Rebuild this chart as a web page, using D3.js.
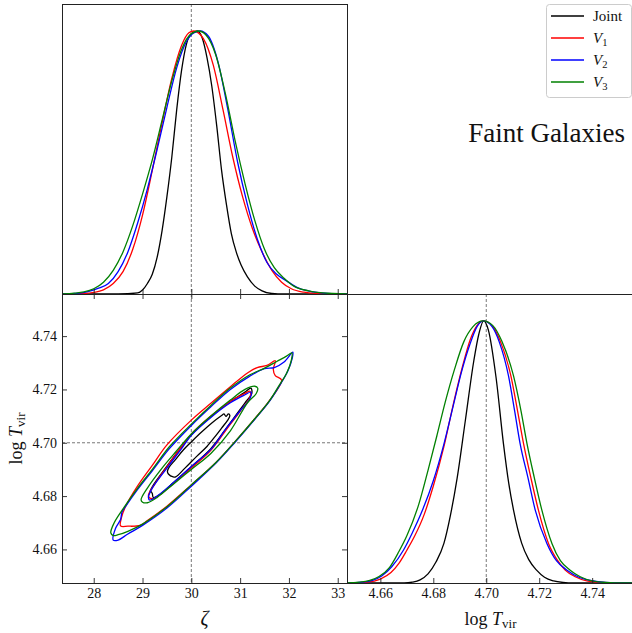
<!DOCTYPE html>
<html>
<head>
<meta charset="utf-8">
<script src="https://cdn.jsdelivr.net/npm/d3@7"></script>
<style>
  body { margin: 0; background: #fff; }
  svg text { font-family: "Liberation Serif", "DejaVu Serif", serif; fill: #111; }
</style>
</head>
<body>
<svg id="fig" width="632" height="633"></svg>
<script>
// ---------- data ----------
const zetaTicks = [28, 29, 30, 31, 32, 33];
const tvirTicks = [4.66, 4.68, 4.70, 4.72, 4.74];
const zetaTrue = 30;
const tvirTrue = 4.70;
const seriesKeys = ["Joint", "V1", "V2", "V3"];
const seriesColors = ["#000000", "#ff0000", "#0000ff", "#008000"];
const titleText = "Faint Galaxies";

// marginal posterior of zeta (peak-normalised)
const zetaJoint = [[27.35,0],[28.5,0],[28.9,0.004],[29.0,0.015],[29.1,0.04],[29.2,0.075],[29.3,0.14],[29.4,0.24],[29.5,0.37],[29.6,0.52],[29.7,0.7],[29.8,0.85],[29.9,0.95],[30.0,0.99],[30.12,1.0],[30.22,0.975],[30.32,0.9],[30.42,0.79],[30.52,0.64],[30.62,0.47],[30.72,0.34],[30.82,0.23],[30.92,0.16],[31.02,0.11],[31.15,0.065],[31.3,0.03],[31.45,0.012],[31.65,0.002],[31.9,0],[33.19,0]];
const zetaV1 = [[27.35,0],[27.8,0.002],[28.0,0.006],[28.2,0.016],[28.4,0.04],[28.6,0.085],[28.8,0.17],[29.0,0.3],[29.2,0.47],[29.4,0.65],[29.6,0.82],[29.8,0.945],[29.95,0.993],[30.05,1.0],[30.25,0.97],[30.45,0.87],[30.65,0.7],[30.85,0.52],[31.05,0.37],[31.25,0.25],[31.45,0.16],[31.65,0.09],[31.85,0.045],[32.05,0.02],[32.3,0.007],[32.6,0.002],[33.0,0],[33.19,0]];
const zetaV2 = [[27.35,0],[27.7,0.003],[27.9,0.01],[28.1,0.022],[28.3,0.04],[28.5,0.085],[28.7,0.16],[28.9,0.27],[29.1,0.4],[29.3,0.55],[29.5,0.71],[29.7,0.86],[29.9,0.96],[30.05,0.993],[30.18,1.0],[30.35,0.98],[30.55,0.88],[30.75,0.7],[30.95,0.5],[31.15,0.34],[31.35,0.21],[31.55,0.12],[31.75,0.075],[31.95,0.05],[32.2,0.022],[32.5,0.008],[32.8,0.002],[33.19,0]];
const zetaV3 = [[27.35,0],[27.6,0.003],[27.8,0.008],[28.0,0.02],[28.2,0.045],[28.4,0.09],[28.6,0.16],[28.8,0.26],[29.0,0.38],[29.2,0.51],[29.4,0.66],[29.6,0.81],[29.8,0.93],[30.0,0.99],[30.15,1.0],[30.3,0.985],[30.5,0.91],[30.7,0.76],[30.9,0.58],[31.1,0.42],[31.3,0.28],[31.5,0.17],[31.7,0.1],[31.9,0.06],[32.1,0.03],[32.4,0.012],[32.7,0.004],[33.19,0]];

// marginal posterior of log T_vir (peak-normalised)
const tvirJoint = [[4.6474,0],[4.669,0],[4.672,0.003],[4.675,0.012],[4.678,0.035],[4.681,0.08],[4.684,0.151],[4.6865,0.26],[4.689,0.40],[4.6921,0.62],[4.6953,0.848],[4.6972,0.95],[4.699,1.0],[4.7008,0.965],[4.7037,0.784],[4.7065,0.531],[4.7085,0.38],[4.7103,0.278],[4.7134,0.151],[4.716,0.09],[4.719,0.049],[4.722,0.022],[4.7254,0.008],[4.729,0.002],[4.733,0],[4.7558,0]];
const tvirV1 = [[4.6474,0],[4.651,0.001],[4.655,0.003],[4.66,0.015],[4.664,0.04],[4.667,0.075],[4.670,0.125],[4.673,0.18],[4.6765,0.26],[4.680,0.37],[4.684,0.52],[4.6875,0.68],[4.691,0.825],[4.694,0.93],[4.6965,0.982],[4.699,1.0],[4.7025,0.978],[4.7052,0.925],[4.7093,0.79],[4.7118,0.658],[4.7141,0.531],[4.7168,0.404],[4.7197,0.278],[4.7235,0.151],[4.727,0.085],[4.7298,0.049],[4.7336,0.024],[4.738,0.008],[4.744,0.002],[4.75,0],[4.7558,0]];
const tvirV2 = [[4.6474,0],[4.65,0.001],[4.653,0.003],[4.657,0.01],[4.6605,0.027],[4.6643,0.062],[4.6687,0.125],[4.672,0.19],[4.676,0.28],[4.680,0.39],[4.684,0.53],[4.6875,0.675],[4.6905,0.8],[4.6938,0.91],[4.6965,0.978],[4.699,1.0],[4.7022,0.978],[4.7049,0.92],[4.7084,0.79],[4.7107,0.658],[4.7128,0.531],[4.7157,0.404],[4.7185,0.278],[4.7229,0.151],[4.7265,0.085],[4.7305,0.049],[4.735,0.022],[4.7393,0.01],[4.745,0.002],[4.752,0],[4.7558,0]];
const tvirV3 = [[4.6474,0],[4.649,0.001],[4.652,0.003],[4.656,0.01],[4.6595,0.025],[4.6635,0.06],[4.667,0.12],[4.670,0.18],[4.6745,0.30],[4.678,0.43],[4.6813,0.56],[4.6845,0.69],[4.688,0.815],[4.6915,0.92],[4.695,0.978],[4.6988,1.0],[4.7025,0.982],[4.7059,0.922],[4.7103,0.79],[4.7131,0.658],[4.7154,0.531],[4.7181,0.404],[4.721,0.278],[4.7248,0.151],[4.728,0.085],[4.7317,0.049],[4.7355,0.024],[4.74,0.008],[4.745,0.002],[4.752,0],[4.7558,0]];

// joint (zeta, log T_vir) credible contours, closed outlines
const contJointInner = [[29.53,4.6883],[29.63,4.6872],[29.68,4.6872],[29.87,4.6905],[30.11,4.6949],[30.32,4.6986],[30.49,4.7024],[30.62,4.7055],[30.75,4.7086],[30.79,4.7102],[30.76,4.7108],[30.71,4.7099],[30.67,4.7108],[30.62,4.7102],[30.42,4.7074],[30.21,4.7040],[30.01,4.7005],[29.84,4.6974],[29.67,4.6936],[29.54,4.6907],[29.51,4.6892]];
const contJointOuter = [[29.15,4.6815],[29.2,4.6835],[29.5,4.6912],[29.8,4.6985],[30.0,4.7030],[30.4,4.7098],[30.8,4.7155],[31.1,4.7190],[31.22,4.7205],[31.24,4.7185],[31.1,4.7150],[30.7,4.7050],[30.4,4.6978],[30.0,4.6910],[29.6,4.6845],[29.35,4.6805],[29.22,4.6795],[29.2,4.6810],[29.17,4.6818]];
const contV1Inner = [[29.12,4.6800],[29.25,4.6845],[29.5,4.6910],[29.8,4.6985],[30.0,4.7032],[30.4,4.7100],[30.8,4.7155],[31.1,4.7185],[31.2,4.7193],[31.2,4.7170],[31.0,4.7118],[30.7,4.7045],[30.4,4.6972],[30.0,4.6905],[29.6,4.6842],[29.35,4.6805],[29.2,4.6790]];
const contV1Outer = [[28.55,4.6688],[28.57,4.6720],[28.65,4.6760],[28.9,4.6838],[29.2,4.6915],[29.5,4.6992],[30.0,4.7085],[30.4,4.7148],[30.8,4.7210],[31.15,4.7262],[31.35,4.7282],[31.55,4.7290],[31.72,4.7308],[31.68,4.7275],[31.72,4.7252],[31.85,4.7235],[31.6,4.7158],[31.3,4.7090],[30.9,4.7005],[30.5,4.6925],[30.0,4.6842],[29.5,4.6762],[29.1,4.6708],[28.95,4.6690],[28.7,4.6687]];
const contV2Inner = [[29.12,4.6795],[29.2,4.6830],[29.5,4.6905],[29.8,4.6978],[30.0,4.7028],[30.4,4.7095],[30.8,4.7150],[31.1,4.7180],[31.22,4.7190],[31.2,4.7165],[31.0,4.7120],[30.7,4.7050],[30.4,4.6975],[30.0,4.6911],[29.6,4.6845],[29.3,4.6800],[29.15,4.6785]];
const contV2Outer = [[28.4,4.6635],[28.45,4.6680],[28.55,4.6712],[28.58,4.6740],[28.65,4.6760],[28.9,4.6825],[29.2,4.6895],[29.55,4.6978],[30.0,4.7065],[30.4,4.7135],[30.8,4.7200],[31.2,4.7250],[31.5,4.7278],[31.7,4.7282],[31.9,4.7303],[32.08,4.7340],[32.07,4.7318],[31.98,4.7270],[31.8,4.7212],[31.6,4.7155],[31.3,4.7088],[30.9,4.7003],[30.5,4.6923],[30.0,4.6837],[29.5,4.6755],[29.0,4.6690],[28.7,4.6658],[28.5,4.6635]];
const contV3Inner = [[28.97,4.6786],[29.1,4.6830],[29.4,4.6905],[29.7,4.6970],[30.0,4.7033],[30.4,4.7100],[30.8,4.7160],[31.1,4.7200],[31.3,4.7212],[31.36,4.7205],[31.33,4.7185],[31.15,4.7150],[30.8,4.7045],[30.4,4.6960],[30.0,4.6900],[29.6,4.6840],[29.3,4.6795],[29.1,4.6775],[29.0,4.6777]];
const contV3Outer = [[28.35,4.6662],[28.42,4.6700],[28.6,4.6752],[28.9,4.6830],[29.2,4.6900],[29.55,4.6985],[30.0,4.7070],[30.4,4.7140],[30.8,4.7205],[31.2,4.7255],[31.5,4.7280],[31.75,4.7305],[31.95,4.7325],[32.06,4.7337],[32.05,4.7310],[31.95,4.7260],[31.8,4.7215],[31.6,4.7157],[31.3,4.7090],[30.9,4.7005],[30.5,4.6925],[30.0,4.6842],[29.5,4.6760],[29.0,4.6695],[28.7,4.6668],[28.5,4.6655],[28.4,4.6652]];

// ---------- layout ----------
const svg = d3.select("#fig");
const L = 62, M = 347, R = 634, T = 4, MID = 294, B = 583;
const zetaDomain = [27.35, 33.19];
const tvirDomain = [4.6474, 4.7558];
const densDomain = [0, 1.1027];

const xZ = d3.scaleLinear().domain(zetaDomain).range([L, M]);
const yT = d3.scaleLinear().domain(tvirDomain).range([B, MID]);
const xT = d3.scaleLinear().domain(tvirDomain).range([M, R]);
const yTop = d3.scaleLinear().domain(densDomain).range([MID, T]);
const yBR = d3.scaleLinear().domain(densDomain).range([B, MID]);

const defs = svg.append("defs");
function clip(id, x, y, w, h) {
  defs.append("clipPath").attr("id", id).append("rect").attr("x", x).attr("y", y).attr("width", w).attr("height", h);
  return "url(#" + id + ")";
}
const clipTL = clip("cTL", L, T, M - L, MID - T);
const clipBL = clip("cBL", L, MID, M - L, B - MID);
const clipBR = clip("cBR", M, MID, R - M, B - MID);

const dashStyle = g => g.attr("stroke", "#555").attr("stroke-width", 0.8).attr("stroke-dasharray", "3,2").attr("fill", "none");

// ---------- top-left: zeta marginal ----------
const gTL = svg.append("g").attr("clip-path", clipTL);
gTL.append("line").attr("x1", xZ(zetaTrue)).attr("x2", xZ(zetaTrue)).attr("y1", T).attr("y2", MID).call(dashStyle);
const lineTL = d3.line().x(d => xZ(d[0])).y(d => yTop(d[1])).curve(d3.curveMonotoneX);
[zetaJoint, zetaV1, zetaV2, zetaV3].forEach((s, i) => {
  gTL.append("path").attr("d", lineTL(s)).attr("fill", "none").attr("stroke", seriesColors[i]).attr("stroke-width", 1.3);
});

// ---------- bottom-right: log T_vir marginal ----------
const gBR = svg.append("g").attr("clip-path", clipBR);
gBR.append("line").attr("x1", xT(tvirTrue)).attr("x2", xT(tvirTrue)).attr("y1", MID).attr("y2", B).call(dashStyle);
const lineBR = d3.line().x(d => xT(d[0])).y(d => yBR(d[1])).curve(d3.curveMonotoneX);
[tvirJoint, tvirV1, tvirV2, tvirV3].forEach((s, i) => {
  gBR.append("path").attr("d", lineBR(s)).attr("fill", "none").attr("stroke", seriesColors[i]).attr("stroke-width", 1.3);
});

// ---------- bottom-left: joint contours ----------
const gBL = svg.append("g").attr("clip-path", clipBL);
gBL.append("line").attr("x1", xZ(zetaTrue)).attr("x2", xZ(zetaTrue)).attr("y1", MID).attr("y2", B).call(dashStyle);
gBL.append("line").attr("x1", L).attr("x2", M).attr("y1", yT(tvirTrue)).attr("y2", yT(tvirTrue)).call(dashStyle);
const contourLine = d3.line().x(d => xZ(d[0])).y(d => yT(d[1])).curve(d3.curveCatmullRomClosed.alpha(0.5));
const contourSets = [
  [contJointInner, contJointOuter],
  [contV1Inner, contV1Outer],
  [contV2Inner, contV2Outer],
  [contV3Inner, contV3Outer]
];
contourSets.forEach((set, i) => {
  set.forEach(c => {
    gBL.append("path").attr("d", contourLine(c)).attr("fill", "none").attr("stroke", seriesColors[i]).attr("stroke-width", 1.3);
  });
});

// ---------- axes & frames ----------
const tickColor = "#222";
const fmtT = d3.format(".2f");
function styleAxis(g) {
  g.select(".domain").remove();
  g.selectAll(".tick line").attr("stroke", tickColor).attr("stroke-width", 0.9);
  g.selectAll(".tick text").attr("font-size", 14).attr("fill", "#222")
    .style("font-family", '"Liberation Serif", serif');
}
// bottom-left axes
svg.append("g").attr("transform", `translate(0,${B})`)
  .call(d3.axisBottom(xZ).tickValues(zetaTicks).tickFormat(d3.format("d")).tickSizeInner(-5).tickSizeOuter(0).tickPadding(5))
  .call(styleAxis);
svg.append("g").attr("transform", `translate(${L},0)`)
  .call(d3.axisLeft(yT).tickValues(tvirTicks).tickFormat(fmtT).tickSizeInner(-5).tickSizeOuter(0).tickPadding(5))
  .call(styleAxis);
svg.append("g").attr("transform", `translate(0,${MID})`)
  .call(d3.axisTop(xZ).tickValues(zetaTicks).tickFormat("").tickSizeInner(-5).tickSizeOuter(0))
  .call(styleAxis);
svg.append("g").attr("transform", `translate(${M},0)`)
  .call(d3.axisRight(yT).tickValues(tvirTicks).tickFormat("").tickSizeInner(-5).tickSizeOuter(0))
  .call(styleAxis);
// top-left bottom ticks (pointing up)
svg.append("g").attr("transform", `translate(0,${MID})`)
  .call(d3.axisBottom(xZ).tickValues(zetaTicks).tickFormat("").tickSizeInner(-5).tickSizeOuter(0))
  .call(styleAxis);
// bottom-right axis
svg.append("g").attr("transform", `translate(0,${B})`)
  .call(d3.axisBottom(xT).tickValues(tvirTicks).tickFormat(fmtT).tickSizeInner(-5).tickSizeOuter(0).tickPadding(5))
  .call(styleAxis);

function box(x, y, w, h) {
  svg.append("rect").attr("x", x).attr("y", y).attr("width", w).attr("height", h)
    .attr("fill", "none").attr("stroke", "#222").attr("stroke-width", 1);
}
box(L + 0.5, T + 0.5, M - L, MID - T);
box(L + 0.5, MID + 0.5, M - L, B - MID);
box(M + 0.5, MID + 0.5, R - M, B - MID);

// ---------- axis labels ----------
svg.append("text").attr("x", (L + M) / 2).attr("y", 625).attr("text-anchor", "middle")
  .attr("font-size", 20).attr("font-style", "italic").text("ζ");

function logTvir(sel) {
  sel.append("tspan").text("log ");
  sel.append("tspan").attr("font-style", "italic").text("T");
  sel.append("tspan").attr("font-size", "0.72em").attr("dy", "0.25em").text("vir");
}
svg.append("text").attr("x", (M + R) / 2).attr("y", 625).attr("text-anchor", "middle")
  .attr("font-size", 18).call(logTvir);
svg.append("text").attr("transform", `translate(22,${(MID + B) / 2}) rotate(-90)`).attr("text-anchor", "middle")
  .attr("font-size", 18).call(logTvir);

// ---------- title ----------
svg.append("text").attr("x", 625).attr("y", 142).attr("text-anchor", "end")
  .attr("font-size", 27).text(titleText);

// ---------- legend ----------
const lg = svg.append("g");
lg.append("rect").attr("x", 546.5).attr("y", 4.5).attr("width", 85).attr("height", 93).attr("rx", 3)
  .attr("fill", "#fff").attr("stroke", "#ccc").attr("stroke-width", 1);
seriesKeys.forEach((k, i) => {
  const y = 16 + i * 22;
  lg.append("line").attr("x1", 551).attr("x2", 584).attr("y1", y).attr("y2", y)
    .attr("stroke", seriesColors[i]).attr("stroke-width", 1.3);
  const t = lg.append("text").attr("x", 593).attr("y", y + 5).attr("font-size", 15);
  if (i === 0) {
    t.text(k);
  } else {
    t.append("tspan").attr("font-style", "italic").text(k[0]);
    t.append("tspan").attr("font-size", "0.7em").attr("dy", "0.3em").text(k.slice(1));
  }
});
</script>
</body>
</html>
